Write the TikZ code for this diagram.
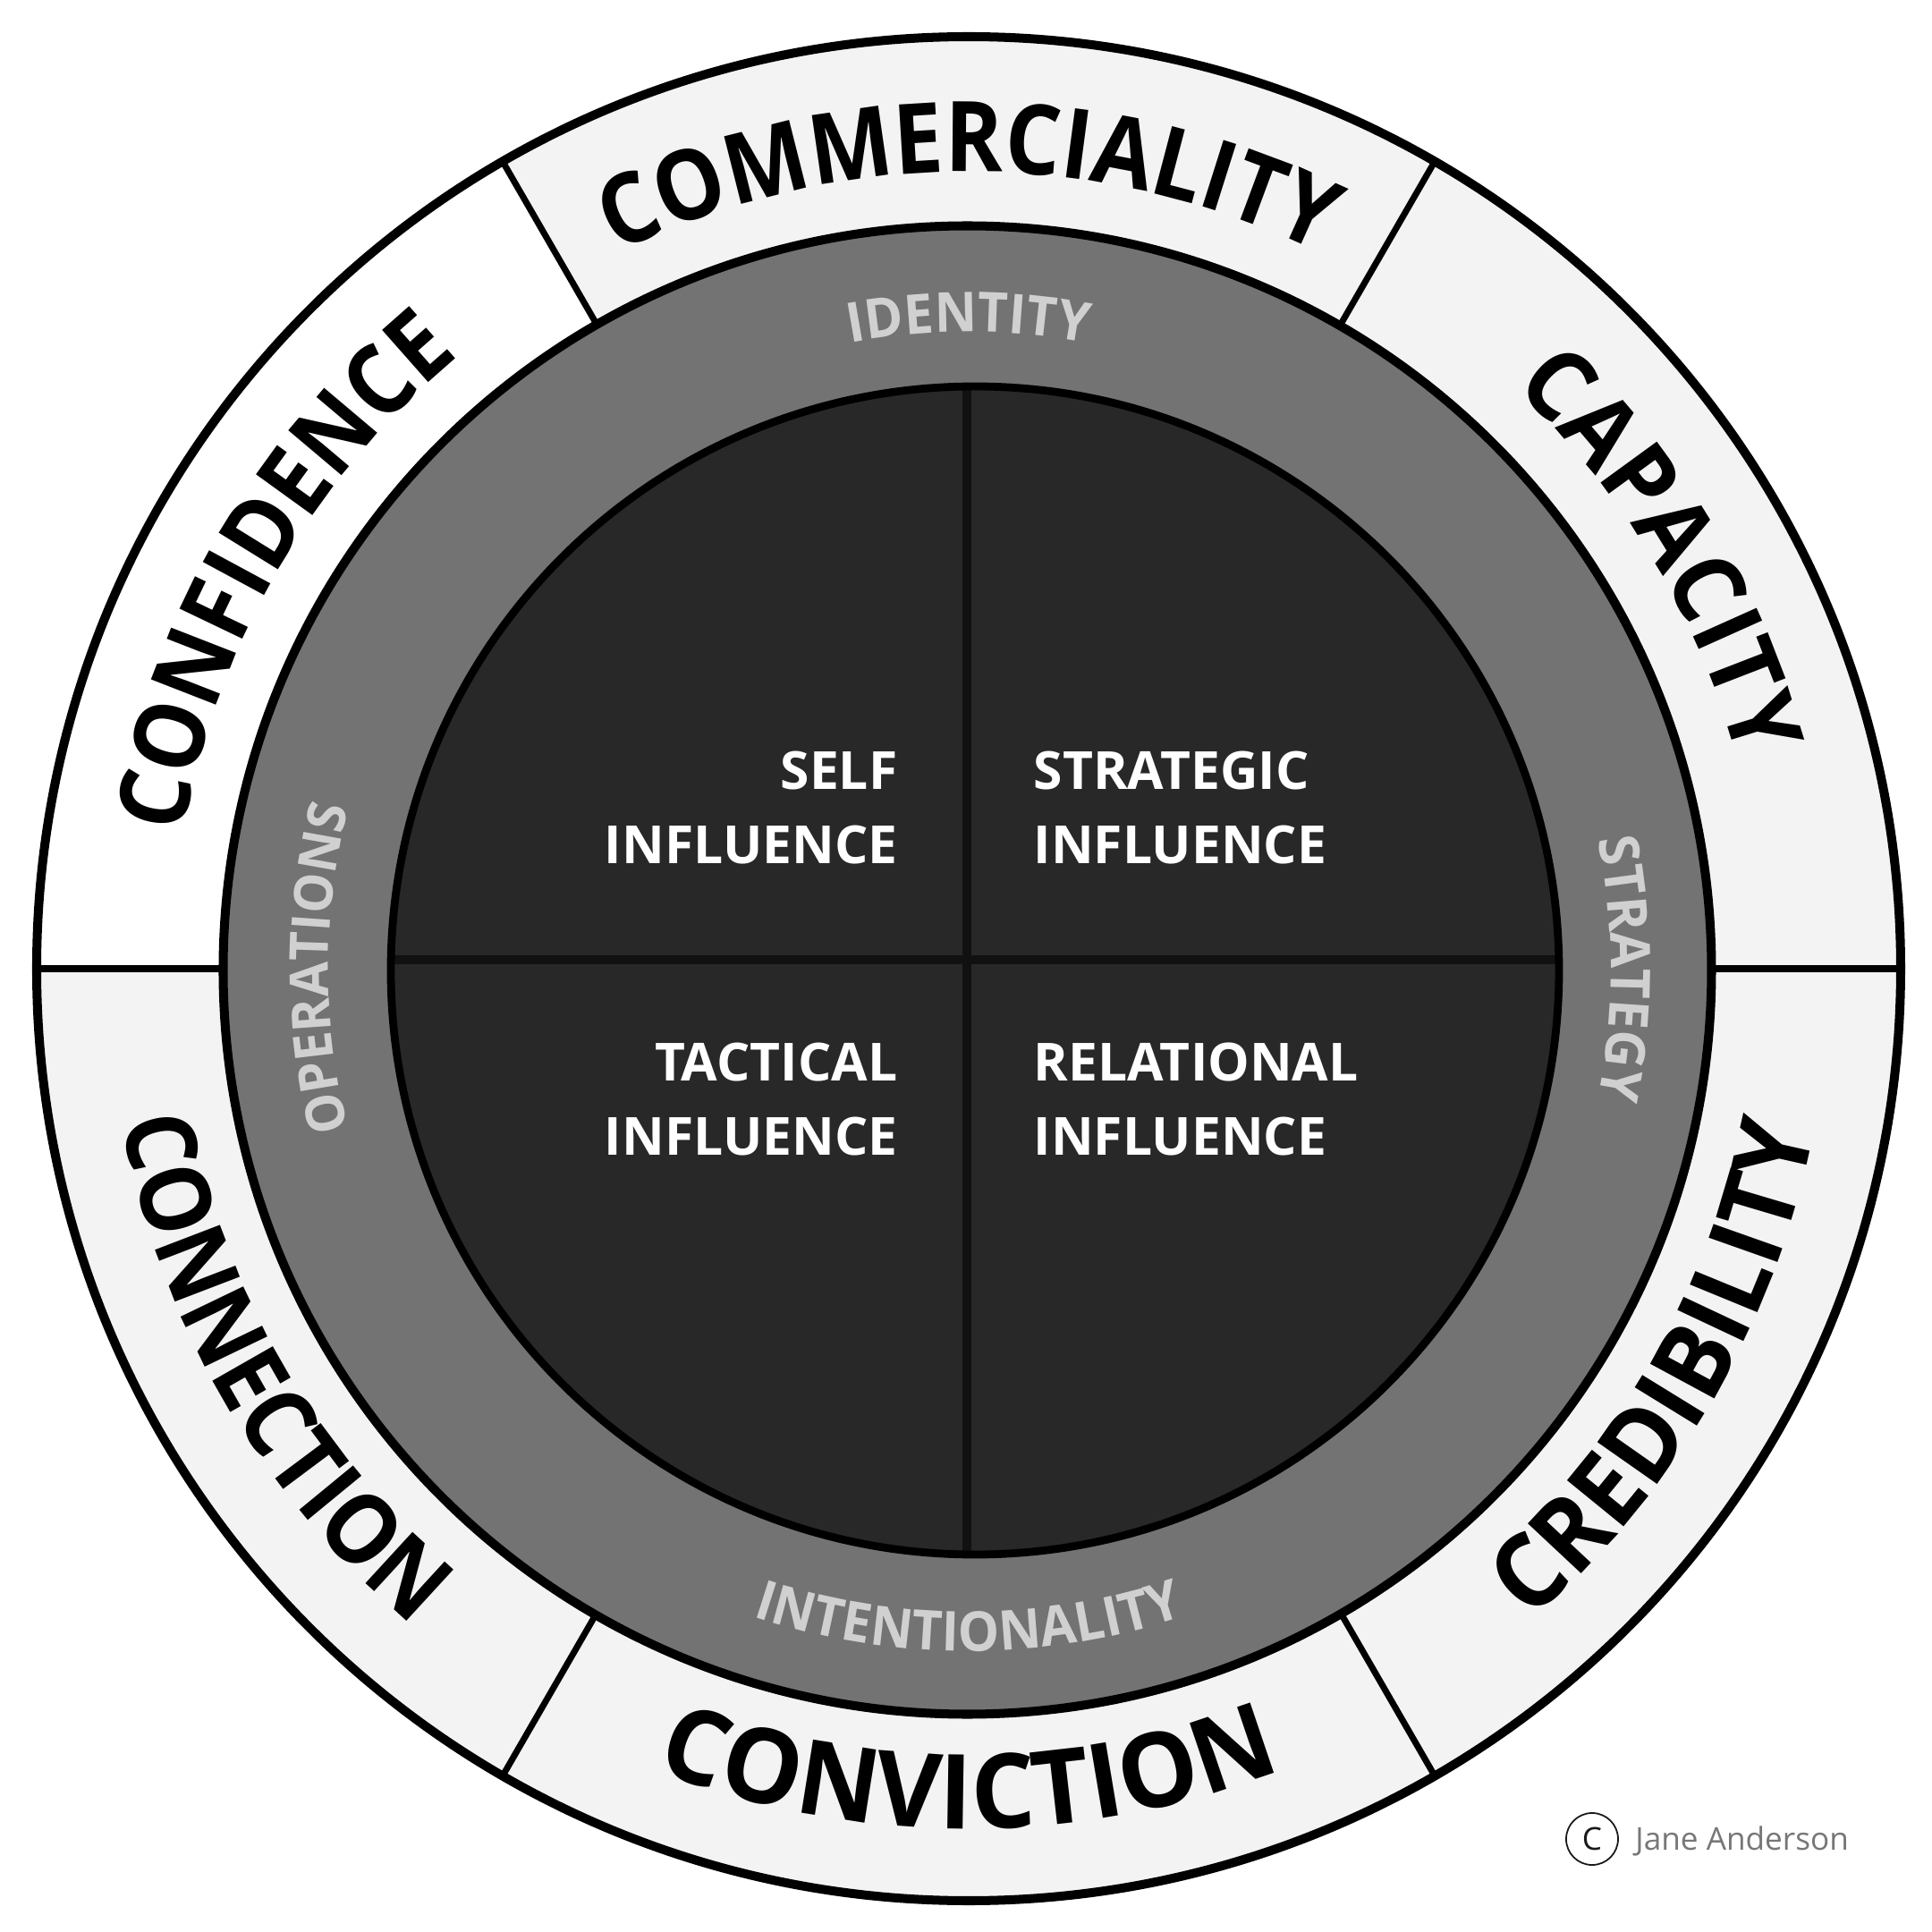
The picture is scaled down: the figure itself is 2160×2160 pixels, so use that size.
\documentclass[tikz,border=0pt]{standalone}
\usepackage{fontspec}
\setmainfont{Open Sans}
\newfontfamily\ringOuterFont{Open Sans}[FakeStretch=0.9]
\newfontfamily\ringOuterFontB{Open Sans}[FakeStretch=0.94]
\newfontfamily\ringOuterFontC{Open Sans}[FakeStretch=0.97]
\newfontfamily\ringInnerFont{Open Sans}[FakeStretch=0.95]
\usetikzlibrary{decorations.text}
\definecolor{ringlight}{HTML}{F3F3F3}
\definecolor{ringgrey}{HTML}{737373}
\definecolor{darkcore}{HTML}{282828}
\definecolor{ringtext}{HTML}{D0D0D0}
\definecolor{authorgrey}{HTML}{777777}
\definecolor{quadline}{HTML}{111111}
\newcommand\fmtOuter{\ringOuterFont\bfseries\fontsize{31}{31}\selectfont}
\newcommand\fmtOuterCap{\ringOuterFontB\bfseries\fontsize{31}{31}\selectfont}
\newcommand\fmtOuterCred{\ringOuterFontB\bfseries\fontsize{32.5}{32.5}\selectfont}
\newcommand\fmtOuterConv{\ringOuterFontC\bfseries\fontsize{33}{33}\selectfont}
\newcommand\fmtInner{\ringInnerFont\bfseries\fontsize{17.5}{17.5}\selectfont}
\newcommand\fmtInnerOps{\ringInnerFont\bfseries\fontsize{17}{17}\selectfont}
\tikzset{
  divider/.style={line width=2pt, draw=black},
  outerline/.style={line width=2.85pt, draw=black},
  quadsep/.style={line width=2.8pt, draw=quadline},
  quadtxt/.style={text=white, inner sep=0pt, font=\bfseries\fontsize{16.7}{16.7}\selectfont},
  cwtext/.style 2 args={decorate, decoration={text along path, text align=center, text color=black, text={|#1|#2}}},
  intext/.style 2 args={decorate, decoration={text along path, text align=center, text color=ringtext, text={|#1|#2}}},
}
\begin{document}
\begin{tikzpicture}[x=0.01cm,y=0.01cm]
\useasboundingbox (-1083,-1077) rectangle (1077,1083);
\fill[white] (-1083,-1077) rectangle (1077,1083);

% outer ring
\fill[ringlight] (0,0) circle[radius=1042];
\fill[white] (120:832) -- (120:1042) arc[start angle=120,end angle=180,radius=1042]
  -- (180:832) arc[start angle=180,end angle=120,radius=832] -- cycle;
\foreach \a in {0,60,...,300} \draw[divider] (\a:820) -- (\a:1042);
\draw[outerline] (0,0) circle[radius=1042];

% grey ring
\filldraw[fill=ringgrey, outerline] (-1.5,-1.5) circle[radius=832];

% dark core
\fill[darkcore] (7,-2) circle[radius=653];
\draw[quadsep] (-2,651) -- (-2,-655);
\draw[quadsep] (-646,10) -- (660,10);
\draw[line width=2.5pt] (7,-2) circle[radius=653];

% outer words
\path[cwtext={\fmtOuter}{COMMERCIALITY}] (120:891) arc[start angle=120,end angle=60,radius=891];
\path[cwtext={\fmtOuter}{CONFIDENCE}] (180:891) arc[start angle=180,end angle=120,radius=891];
\path[cwtext={\fmtOuterCap}{CAPACITY}] (61:891) arc[start angle=61,end angle=1,radius=891];
\path[cwtext={\fmtOuter}{CONNECTION}] (180:962) arc[start angle=180,end angle=240,radius=962];
\path[cwtext={\fmtOuterConv}{CONVICTION}] (240:962) arc[start angle=240,end angle=300,radius=962];
\path[cwtext={\fmtOuterCred}{CREDIBILITY}] (300:962) arc[start angle=300,end angle=360,radius=962];

% ring words
\path[intext={\fmtInner}{IDENTITY}] (135:712) arc[start angle=135,end angle=45,radius=712];
\path[intext={\fmtInner}{STRATEGY}] (45:718) arc[start angle=45,end angle=-45,radius=718];
\path[intext={\fmtInnerOps}{OPERATIONS}] (225:716) arc[start angle=225,end angle=135,radius=716];
\path[intext={\fmtInner}{INTENTIONALITY}] (225:763) arc[start angle=225,end angle=315,radius=763];

% quadrant labels
\node[quadtxt, anchor=base east] (selfA) at (-79,200) {SELF};
\node[quadtxt, anchor=base east] (selfB) at (-79,117.4) {INFLUENCE};
\node[quadtxt, anchor=base west] (stratA) at (72,200) {STRATEGIC};
\node[quadtxt, anchor=base west] (stratB) at (72,117.4) {INFLUENCE};
\node[quadtxt, anchor=base east] (tactA) at (-79,-125.6) {TACTICAL};
\node[quadtxt, anchor=base east] (tactB) at (-79,-208) {INFLUENCE};
\node[quadtxt, anchor=base west] (relA) at (72,-125.6) {RELATIONAL};
\node[quadtxt, anchor=base west] (relB) at (72,-208) {INFLUENCE};

% copyright
\node[circle, draw=black!90, line width=0.5pt, minimum size=16.5pt, inner sep=0pt,
      text=black!90, font=\fontsize{10}{10}\selectfont] (copymark) at (697,-973) {C};
\node[anchor=base west, inner sep=0pt, text=authorgrey, font=\fontsize{10}{12}\selectfont] (author) at (744.7,-985) {Jane Anderson};
\end{tikzpicture}
\end{document}
